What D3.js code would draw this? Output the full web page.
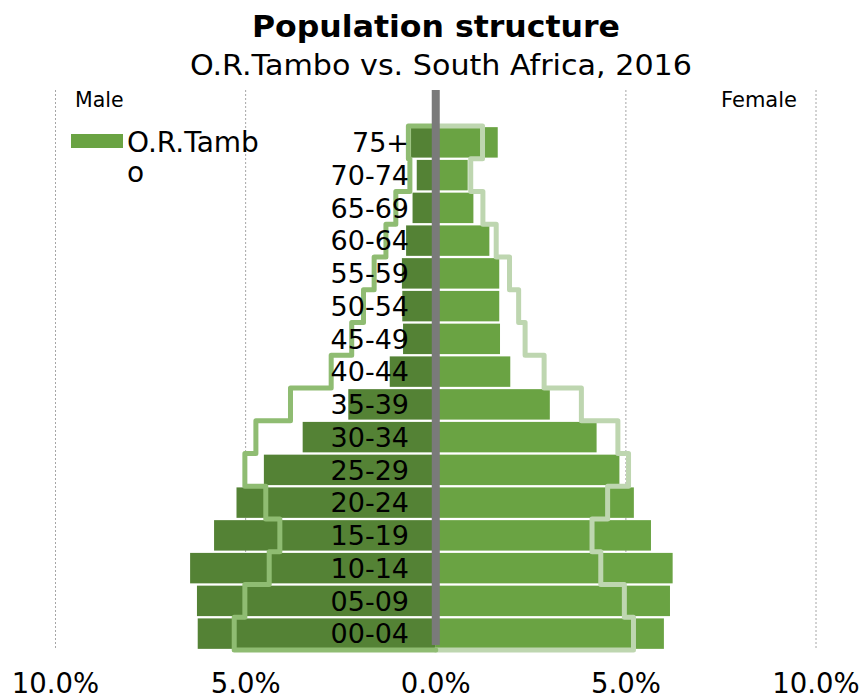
<!DOCTYPE html>
<html>
<head>
<meta charset="utf-8">
<script src="https://cdn.jsdelivr.net/npm/d3@7"></script>
<style>
  body { margin: 0; background: #fff; }
  text { font-family: "DejaVu Sans", Verdana, sans-serif; fill: #000; }
</style>
</head>
<body>
<script>
// age groups, top to bottom
var ageGroups = ["75+", "70-74", "65-69", "60-64", "55-59", "50-54", "45-49", "40-44",
                 "35-39", "30-34", "25-29", "20-24", "15-19", "10-14", "05-09", "00-04"];

// O.R.Tambo, % of population
var tamboMale   = [0.65, 0.50, 0.61, 0.78, 0.89, 0.88, 0.86, 1.21, 2.30, 3.50, 4.52, 5.24, 5.83, 6.46, 6.28, 6.26];
var tamboFemale = [1.63, 0.84, 0.99, 1.41, 1.67, 1.67, 1.69, 1.96, 3.00, 4.23, 4.83, 5.21, 5.66, 6.23, 6.16, 6.00];

// South Africa, % of population
var saMale   = [0.72, 0.68, 1.05, 1.31, 1.62, 1.90, 2.21, 2.75, 3.82, 4.73, 5.02, 4.47, 4.10, 4.38, 5.02, 5.30];
var saFemale = [1.23, 0.92, 1.24, 1.59, 1.94, 2.18, 2.35, 2.85, 3.83, 4.79, 5.07, 4.52, 4.11, 4.34, 4.96, 5.20];

var xTicks = [-10, -5, 0, 5, 10];

var width = 860, height = 699;

var svg = d3.select("body").append("svg")
    .attr("width", width)
    .attr("height", height);

var x = d3.scaleLinear().domain([-10, 10]).range([55.5, 816]);
var y = d3.scaleBand().domain(ageGroups).range([126, 650])
    .paddingInner(0.07).paddingOuter(0.035);

// gridlines
svg.append("g").selectAll("line")
  .data(xTicks.filter(function(d) { return d !== 0; }))
  .enter().append("line")
    .attr("x1", function(d) { return x(d); })
    .attr("x2", function(d) { return x(d); })
    .attr("y1", 90)
    .attr("y2", 649)
    .attr("stroke", "#a6a6a6")
    .attr("stroke-width", 1)
    .attr("stroke-dasharray", "2,2");

// male bars
svg.append("g").selectAll("rect")
  .data(ageGroups)
  .enter().append("rect")
    .attr("x", function(d, i) { return x(-tamboMale[i]); })
    .attr("y", function(d) { return y(d); })
    .attr("width", function(d, i) { return x(0) - x(-tamboMale[i]); })
    .attr("height", y.bandwidth())
    .attr("fill", "#548235");

// female bars
svg.append("g").selectAll("rect")
  .data(ageGroups)
  .enter().append("rect")
    .attr("x", x(0))
    .attr("y", function(d) { return y(d); })
    .attr("width", function(d, i) { return x(tamboFemale[i]) - x(0); })
    .attr("height", y.bandwidth())
    .attr("fill", "#6aa343");

// step outline for South Africa
function stepPoints(values, sign) {
  var half = (y.step() - y.bandwidth()) / 2;
  var pts = [[x(0), y.range()[0]]];
  values.forEach(function(v, i) {
    var top = i === 0 ? y.range()[0] : y(ageGroups[i]) - half;
    var bot = i === values.length - 1 ? y.range()[1] : y(ageGroups[i]) + y.bandwidth() + half;
    pts.push([x(sign * v), top]);
    pts.push([x(sign * v), bot]);
  });
  pts.push([x(0), y.range()[1]]);
  return pts;
}

var line = d3.line();

svg.append("path")
    .attr("d", line(stepPoints(saFemale, 1)))
    .attr("fill", "none")
    .attr("stroke", "#bed6b0")
    .attr("stroke-width", 5)
    .attr("stroke-linejoin", "round")
    .attr("stroke-linecap", "round");

svg.append("path")
    .attr("d", line(stepPoints(saMale, -1)))
    .attr("fill", "none")
    .attr("stroke", "#8fbc72")
    .attr("stroke-width", 5)
    .attr("stroke-linejoin", "round")
    .attr("stroke-linecap", "round");

// centre axis bar
svg.append("rect")
    .attr("x", x(0) - 4)
    .attr("y", 90)
    .attr("width", 8)
    .attr("height", 555)
    .attr("fill", "#7a7a7a");

// age labels
svg.append("g").selectAll("text")
  .data(ageGroups)
  .enter().append("text")
    .attr("x", 409)
    .attr("y", function(d) { return y(d) + y.bandwidth() / 2; })
    .attr("dy", "0.36em")
    .attr("text-anchor", "end")
    .attr("font-size", 27)
    .text(function(d) { return d; });

// x axis labels
svg.append("g").selectAll("text")
  .data(xTicks)
  .enter().append("text")
    .attr("x", function(d) { return x(d); })
    .attr("y", 693)
    .attr("text-anchor", "middle")
    .attr("font-size", 27.5)
    .text(function(d) { return Math.abs(d).toFixed(1) + "%"; });

// side labels
svg.append("text")
    .attr("x", 75)
    .attr("y", 107)
    .attr("font-size", 20.5)
    .text("Male");

svg.append("text")
    .attr("x", 797)
    .attr("y", 107)
    .attr("text-anchor", "end")
    .attr("font-size", 21)
    .text("Female");

// legend
svg.append("rect")
    .attr("x", 71)
    .attr("y", 134)
    .attr("width", 52)
    .attr("height", 14)
    .attr("fill", "#6aa343");

svg.append("text")
    .attr("x", 127)
    .attr("y", 152)
    .attr("font-size", 28)
    .text("O.R.Tamb");

svg.append("text")
    .attr("x", 127)
    .attr("y", 182)
    .attr("font-size", 28)
    .text("o");

// titles
svg.append("text")
    .attr("x", 436)
    .attr("y", 37)
    .attr("text-anchor", "middle")
    .attr("font-size", 30)
    .attr("font-weight", "bold")
    .attr("textLength", 368)
    .attr("lengthAdjust", "spacingAndGlyphs")
    .text("Population structure");

svg.append("text")
    .attr("x", 441)
    .attr("y", 75)
    .attr("text-anchor", "middle")
    .attr("font-size", 28)
    .attr("textLength", 502)
    .attr("lengthAdjust", "spacingAndGlyphs")
    .text("O.R.Tambo vs. South Africa, 2016");
</script>
</body>
</html>
